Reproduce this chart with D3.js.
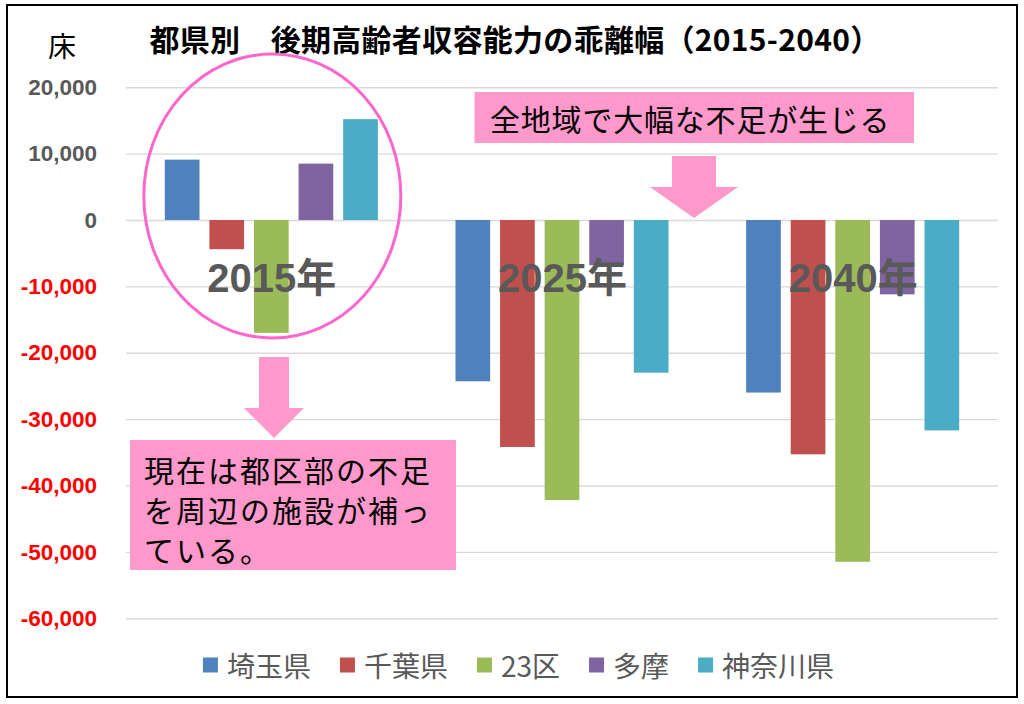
<!DOCTYPE html>
<html>
<head>
<meta charset="utf-8">
<script src="https://cdn.jsdelivr.net/npm/d3@7"></script>
<style>
  html, body { margin: 0; padding: 0; background: #fff; }
  svg { display: block; }
</style>
</head>
<body>
<svg id="chart" width="1024" height="704"></svg>
<script>
// ---- data ----
const years = ["2015年", "2025年", "2040年"];
const series = ["埼玉県", "千葉県", "23区", "多摩", "神奈川県"];
const colors = ["#4F81BD", "#C0504D", "#9BBB59", "#8064A2", "#4BACC6"];
const saitama  = [9100, -24300, -26000];
const chiba    = [-4400, -34200, -35300];
const ku23     = [-17000, -42200, -51500];
const tama     = [8500, -6800, -11200];
const kanagawa = [15200, -23000, -31700];
const seriesValues = [saitama, chiba, ku23, tama, kanagawa];
const tickValues = [20000, 10000, 0, -10000, -20000, -30000, -40000, -50000, -60000];
const tickLabels = ["20,000", "10,000", "0", "-10,000", "-20,000", "-30,000", "-40,000", "-50,000", "-60,000"];
const titleText = "都県別　後期高齢者収容能力の乖離幅（2015-2040）";
const unitText = "床";
const note1 = "全地域で大幅な不足が生じる";
const note2Lines = ["現在は都区部の不足", "を周辺の施設が補っ", "ている。"];

const rows = [];
years.forEach((y, i) => series.forEach((s, j) => rows.push({ year: y, series: s, value: seriesValues[j][i], color: colors[j] })));

const svg = d3.select("#chart");
const JP = "'Noto Sans CJK JP', 'Noto Sans', sans-serif";
const NUM = "'Liberation Sans', 'Noto Sans CJK JP', sans-serif";

// frame
svg.append("rect").attr("x", 7).attr("y", 5).attr("width", 1010).attr("height", 692)
  .attr("fill", "#fff").attr("stroke", "#000").attr("stroke-width", 2);

// scales
const plotL = 126, plotR = 998;
const y = d3.scaleLinear().domain([-60000, 20000]).range([618.2, 87.3]);
const x0 = d3.scaleBand().domain(years).range([plotL, plotR]).paddingInner(0).paddingOuter(0);
const bw = x0.bandwidth();
const x1 = d3.scaleBand().domain(series).range([bw * 0.1335, bw * 0.8665]).paddingInner(0.222).paddingOuter(0);

// axis + gridlines
const axis = d3.axisLeft(y).tickValues(tickValues)
  .tickFormat((d, i) => tickLabels[i])
  .tickSize(-(plotR - plotL)).tickPadding(29);
const ag = svg.append("g").attr("transform", `translate(${plotL},0)`).call(axis);
ag.select(".domain").remove();
ag.selectAll(".tick line").attr("stroke", "#D9D9D9").attr("stroke-width", 1.4);
ag.selectAll(".tick text")
  .attr("font-family", NUM).attr("font-weight", "bold").attr("font-size", 22.5)
  .attr("fill", d => d < 0 ? "#FF0000" : "#595959");

// bars
svg.append("g").selectAll("rect").data(rows).join("rect")
  .attr("x", d => x0(d.year) + x1(d.series))
  .attr("width", x1.bandwidth())
  .attr("y", d => y(Math.max(0, d.value)))
  .attr("height", d => Math.abs(y(d.value) - y(0)))
  .attr("fill", d => d.color);

// category (year) labels
svg.append("g").selectAll("text").data(years).join("text")
  .attr("x", d => x0(d) + bw / 2 + 0.5)
  .attr("y", 292)
  .attr("text-anchor", "middle")
  .attr("font-family", NUM).attr("font-weight", "bold").attr("font-size", 40)
  .attr("fill", "#595959")
  .text(d => d);

// title and unit
svg.append("text").attr("x", 515).attr("y", 38).attr("text-anchor", "middle")
  .attr("dominant-baseline", "central")
  .attr("font-family", JP).attr("font-weight", "bold").attr("font-size", 30)
  .attr("letter-spacing", 0.3)
  .attr("fill", "#000").text(titleText);
svg.append("text").attr("x", 62).attr("y", 45).attr("text-anchor", "middle")
  .attr("dominant-baseline", "central")
  .attr("font-family", JP).attr("font-size", 28).attr("fill", "#000").text(unitText);

// ellipse around 2015
svg.append("ellipse")
  .attr("cx", x0(years[0]) + bw / 2 + 1).attr("cy", 196)
  .attr("rx", 128.5).attr("ry", 142)
  .attr("fill", "none").attr("stroke", "#FF66CC").attr("stroke-width", 3);

// note 1 box + arrow
const pink = "#FF99CC";
svg.append("rect").attr("x", 474.5).attr("y", 92).attr("width", 439.5).attr("height", 51).attr("fill", pink);
svg.append("text").attr("x", 490).attr("y", 118).attr("dominant-baseline", "central")
  .attr("font-family", JP).attr("font-size", 30).attr("letter-spacing", 0.8)
  .attr("fill", "#000").text(note1);
svg.append("path").attr("fill", pink)
  .attr("d", "M672,156 L716,156 L716,187 L738,187 L694,218 L650,187 L672,187 Z");

// note 2 box + arrow
svg.append("path").attr("fill", pink)
  .attr("d", "M259,357 L289,357 L289,408 L304,408 L274,438 L244,408 L259,408 Z");
svg.append("rect").attr("x", 130).attr("y", 440).attr("width", 326).attr("height", 130).attr("fill", pink);
svg.append("g").selectAll("text").data(note2Lines).join("text")
  .attr("x", 144).attr("y", (d, i) => 469 + i * 40)
  .attr("dominant-baseline", "central")
  .attr("font-family", JP).attr("font-size", 30).attr("letter-spacing", 2)
  .attr("fill", "#000").text(d => d);

// legend
const lg = svg.append("g");
let lx = 0;
series.forEach((s, j) => {
  const g = lg.append("g").attr("transform", `translate(${lx},0)`);
  g.append("rect").attr("x", 0).attr("y", -7.5).attr("width", 15).attr("height", 15).attr("fill", colors[j]);
  const t = g.append("text").attr("x", 24).attr("y", 0).attr("dominant-baseline", "central")
    .attr("font-family", JP).attr("font-size", 28).attr("fill", "#595959").text(s);
  const w = t.node().getComputedTextLength();
  lx += 24 + w + 29;
});
const totalW = lx - 29;
lg.attr("transform", `translate(${518.5 - totalW / 2},665)`);
</script>
</body>
</html>
